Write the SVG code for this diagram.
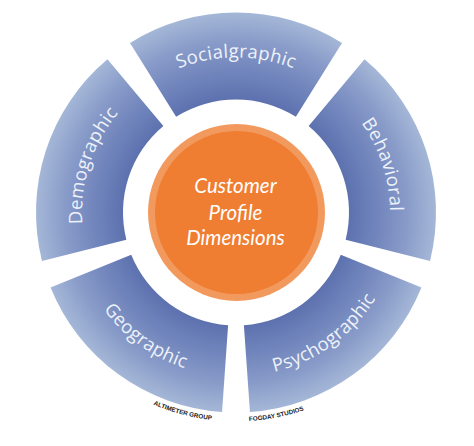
<svg xmlns="http://www.w3.org/2000/svg" width="474" height="446" viewBox="0 0 474 446">
<style>
.seg{fill:url(#ring)}
.lbl{font-family:"Open Sans","Noto Sans",sans-serif;font-size:18.5px;fill:#eef2fa;letter-spacing:0.3px}
.ctr{font-family:Lato,"Open Sans",sans-serif;font-style:italic;font-size:20.5px;fill:#ffffff;text-anchor:middle}
.cred{font-family:"Liberation Sans",Arial,sans-serif;font-size:6.3px;font-weight:bold;fill:#1a1a1a}
</style>
<defs>
<radialGradient id="ring" gradientUnits="userSpaceOnUse" cx="236" cy="212.5" r="200">
<stop offset="0.565" stop-color="#5d71af"/>
<stop offset="0.7" stop-color="#7084bc"/>
<stop offset="0.85" stop-color="#879ac8"/>
<stop offset="1" stop-color="#a5b7d7"/>
</radialGradient>
<path id="pSoc" d="M 126.4 102.9 A 155 155 0 0 1 345.6 102.9"/>
<path id="pDem" d="M 98.79 282.42 A 154 154 0 0 1 166.08 75.29"/>
<path id="pBeh" d="M 305.92 75.29 A 154 154 0 0 1 373.21 282.42"/>
<path id="pPsy" d="M 210.35 374.48 A 164 164 0 0 0 397.98 238.15"/>
<path id="pGeo" d="M 74.02 238.15 A 164 164 0 0 0 261.65 374.48"/>
<path id="pAlt" d="M 116.12 383.7 A 209 209 0 0 0 254.22 420.7"/>
<path id="pFog" d="M 204.38 419.1 A 209 209 0 0 0 344.58 391.09"/>
</defs>
<rect width="474" height="446" fill="#ffffff"/>
<g id="connectors"></g>
<g id="socialgraphic">
<path class="seg" d="M 130.02 42.9 A 200 200 0 0 1 341.98 42.9 L 295.88 116.68 A 113 113 0 0 0 176.12 116.68 Z"/>
<text class="lbl"><textPath href="#pSoc" startOffset="50%" text-anchor="middle">Socialgraphic</textPath></text>
</g>
<g id="behavioral">
<path class="seg" d="M 364.56 59.3 A 200 200 0 0 1 430.06 260.88 L 345.64 239.83 A 113 113 0 0 0 308.64 125.94 Z"/>
<text class="lbl"><textPath href="#pBeh" startOffset="50%" text-anchor="middle">Behavioral</textPath></text>
</g>
<g id="psychographic">
<path class="seg" d="M 421.44 287.42 A 200 200 0 0 1 249.96 412.02 L 243.89 325.23 A 113 113 0 0 0 340.77 254.83 Z"/>
<text class="lbl"><textPath href="#pPsy" startOffset="50%" text-anchor="middle">Psychographic</textPath></text>
</g>
<g id="geographic">
<path class="seg" d="M 222.04 412.02 A 200 200 0 0 1 50.56 287.42 L 131.23 254.83 A 113 113 0 0 0 228.11 325.23 Z"/>
<text class="lbl"><textPath href="#pGeo" startOffset="50%" text-anchor="middle">Geographic</textPath></text>
</g>
<g id="demographic">
<path class="seg" d="M 41.94 260.88 A 200 200 0 0 1 107.44 59.3 L 163.36 125.94 A 113 113 0 0 0 126.36 239.83 Z"/>
<text class="lbl"><textPath href="#pDem" startOffset="50%" text-anchor="middle">Demographic</textPath></text>
</g>
<g id="center">
<circle cx="236.5" cy="212.5" r="88.5" fill="#f29a5e"/>
<circle cx="236.5" cy="212.5" r="81.5" fill="#ef7d32"/>
<text class="ctr" x="235.5" y="193">Customer</text>
<text class="ctr" x="235.5" y="219.5">Profile</text>
<text class="ctr" x="235.5" y="245">Dimensions</text>
</g>
<g id="credits">
<text class="cred"><textPath href="#pAlt" startOffset="50%" text-anchor="middle">ALTIMETER GROUP</textPath></text>
<text class="cred"><textPath href="#pFog" startOffset="50%" text-anchor="middle">FOGDAY STUDIOS</textPath></text>
</g>
</svg>
